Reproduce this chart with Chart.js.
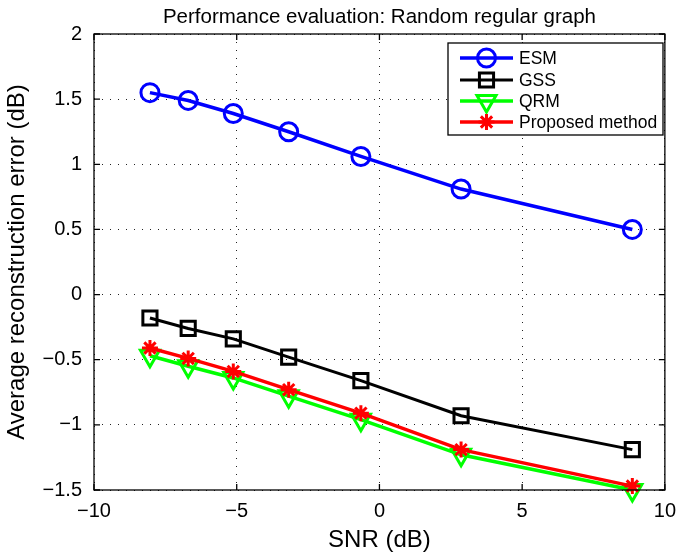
<!DOCTYPE html>
<html>
<head>
<meta charset="utf-8">
<script src="https://cdn.jsdelivr.net/npm/chart.js@4.4.0/dist/chart.umd.min.js"></script>
<style>
    html, body { margin: 0; padding: 0; background: #fff; }
</style>
</head>
<body>
<canvas id="chart" width="685" height="556"></canvas>
<script>
// values
let snr_db = [-8.04, -6.70, -5.12, -3.18, -0.65, 2.86, 8.86];
let esm_err = [1.55, 1.49, 1.39, 1.25, 1.06, 0.81, 0.50];
let gss_err = [-0.18, -0.26, -0.34, -0.48, -0.66, -0.93, -1.19];
let qrm_err = [-0.47, -0.55, -0.64, -0.78, -0.96, -1.23, -1.50];
let proposed_err = [-0.41, -0.49, -0.59, -0.73, -0.91, -1.19, -1.47];

let series_names = ["ESM", "GSS", "QRM", "Proposed method"];
let x_ticks = [-10, -5, 0, 5, 10];
let y_ticks = [-1.5, -1, -0.5, 0, 0.5, 1, 1.5, 2];

let font_name = "'Liberation Sans', Arial, Helvetica, sans-serif";

function to_points(xs, ys) {
    return xs.map((x, i) => ({x: x, y: ys[i]}));
}

function fmt(v) {
    let s = String(v);
    return v < 0 ? "\u2212" + s.slice(1) : s;
}

let marker_styles = [
    {pointStyle: "circle", radius: 9, rotation: 0, color: "#0000ff", width: 3.5, order: 4},
    {pointStyle: "rect", radius: 10, rotation: 0, color: "#000000", width: 3, order: 3},
    {pointStyle: "triangle", radius: 11, rotation: 180, color: "#00ff00", width: 3.5, order: 2},
    {pointStyle: "star", radius: 8, rotation: 0, color: "#ff0000", width: 3.5, order: 1},
];

let all_series = [esm_err, gss_err, qrm_err, proposed_err];

let datasets = all_series.map((vals, i) => {
    let m = marker_styles[i];
    return {
        label: series_names[i],
        data: to_points(snr_db, vals),
        borderColor: m.color,
        backgroundColor: "rgba(0,0,0,0)",
        borderWidth: m.width,
        pointStyle: m.pointStyle,
        pointRadius: m.radius,
        pointRotation: m.rotation,
        pointBorderWidth: 3,
        pointBorderColor: m.color,
        pointBackgroundColor: "rgba(0,0,0,0)",
        tension: 0,
        order: m.order,
        clip: false,
    };
});

// matlab style box, inward ticks, title and legend
let matlabFrame = {
    id: 'matlabFrame',
    afterDraw: (chart) => {
        const {ctx, chartArea} = chart;
        const {left, right, top, bottom} = chartArea;
        const xs = chart.scales.x, ys = chart.scales.y;
        ctx.save();
        ctx.strokeStyle = "#000";
        ctx.lineWidth = 1.3;
        ctx.setLineDash([]);
        ctx.strokeRect(left, top, right - left, bottom - top);
        ctx.beginPath();
        x_ticks.forEach(v => {
            let px = xs.getPixelForValue(v);
            ctx.moveTo(px, bottom); ctx.lineTo(px, bottom - 6);
            ctx.moveTo(px, top); ctx.lineTo(px, top + 6);
        });
        y_ticks.forEach(v => {
            let py = ys.getPixelForValue(v);
            ctx.moveTo(left, py); ctx.lineTo(left + 6, py);
            ctx.moveTo(right, py); ctx.lineTo(right - 6, py);
        });
        ctx.stroke();

        // title
        ctx.fillStyle = "#000";
        ctx.font = "20.5px " + font_name;
        ctx.textAlign = "center";
        ctx.textBaseline = "middle";
        ctx.fillText("Performance evaluation: Random regular graph", (left + right) / 2, 17);

        // legend
        let bx = 448, by = 43, bw = 215, bh = 92;
        ctx.fillStyle = "#fff";
        ctx.fillRect(bx, by, bw, bh);
        ctx.lineWidth = 1.3;
        ctx.strokeStyle = "#000";
        ctx.strokeRect(bx, by, bw, bh);
        let rows = [58, 80, 101, 122];
        series_names.forEach((name, i) => {
            let m = marker_styles[i];
            ctx.strokeStyle = m.color;
            ctx.lineWidth = m.width;
            ctx.beginPath();
            ctx.moveTo(460, rows[i]);
            ctx.lineTo(513, rows[i]);
            ctx.stroke();
            ctx.fillStyle = "rgba(0,0,0,0)";
            ctx.lineWidth = 3;
            Chart.helpers.drawPoint(ctx, {
                pointStyle: m.pointStyle, radius: m.radius, rotation: m.rotation, borderWidth: 3
            }, 486.5, rows[i]);
            ctx.fillStyle = "#000";
            ctx.font = "17.5px " + font_name;
            ctx.textAlign = "left";
            ctx.textBaseline = "middle";
            ctx.fillText(name, 519, rows[i] + 1);
        });
        ctx.restore();
    }
};

let options_line = {
    responsive: false,
    animation: false,
    layout: { padding: {top: 34, right: 13, left: 0, bottom: 0} },
    scales: {
        x: {
            type: "linear",
            min: -10,
            max: 10,
            afterFit: (scale) => { scale.height = 66; },
            afterBuildTicks: (scale) => { scale.ticks = x_ticks.map(v => ({value: v})); },
            title: {
                display: true,
                text: "SNR (dB)",
                color: "#000",
                font: {family: font_name, size: 24},
                padding: {top: 0, bottom: 1},
            },
            grid: {
                color: "#222",
                lineWidth: 1,
                drawTicks: false,
            },
            border: { display: false, dash: [1, 7] },
            ticks: {
                color: "#000",
                padding: 9,
                font: {family: font_name, size: 20},
                callback: (v) => fmt(v),
                maxRotation: 0,
            },
        },
        y: {
            type: "linear",
            min: -1.5,
            max: 2,
            afterFit: (scale) => { scale.width = 94; },
            afterBuildTicks: (scale) => { scale.ticks = y_ticks.map(v => ({value: v})); },
            title: {
                display: true,
                text: "Average reconstruction error (dB)",
                color: "#000",
                font: {family: font_name, size: 24},
                padding: {top: 3, bottom: 0},
            },
            grid: {
                color: "#222",
                lineWidth: 1,
                drawTicks: false,
            },
            border: { display: false, dash: [1, 7] },
            ticks: {
                color: "#000",
                padding: 12,
                font: {family: font_name, size: 20},
                callback: (v) => fmt(v),
            },
        },
    },
    plugins: {
        legend: { display: false },
        tooltip: { enabled: false },
        title: { display: false },
    },
};

let chart_obj = new Chart(document.getElementById("chart"), {
    type: "line",
    data: { datasets: datasets },
    options: options_line,
    plugins: [matlabFrame],
});
</script>
</body>
</html>
